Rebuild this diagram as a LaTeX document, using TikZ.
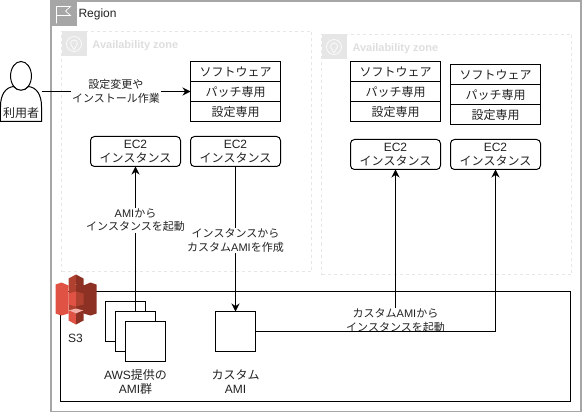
\documentclass[tikz,border=0pt]{standalone}
\usepackage{fontspec}
\setmainfont{Liberation Sans}
\newfontfamily\jp{Noto Sans CJK JP}
\usetikzlibrary{positioning, arrows.meta}
\definecolor{regiongray}{HTML}{A6A6A6}
\definecolor{zonegray}{HTML}{E6E6E6}
\definecolor{zonetext}{HTML}{DEDEDE}
\definecolor{labelgray}{HTML}{222222}
\definecolor{s3light}{HTML}{E05243}
\definecolor{s3dark}{HTML}{8C3123}
\definecolor{s3mid}{HTML}{B0402F}
\definecolor{s3pale}{HTML}{F2B0A9}
\tikzset{
    >={Stealth[length=8pt, width=8pt]}, % bold arrow heads
    every node/.style={font=\fontsize{12}{14}\selectfont, text=labelgray, align=center, inner sep=0pt, outer sep=0pt},
    zone/.style={draw=zonegray, dashed, minimum width=250pt, minimum height=240pt},
    zonename/.style={font=\fontsize{11}{13}\selectfont\bfseries, text=zonetext},
    row/.style={draw=black, fill=white, minimum width=90pt, minimum height=20pt},
    ec2/.style={draw=black, fill=white, rounded corners=4pt, minimum width=90pt, minimum height=30pt},
    ami/.style={draw=black, fill=white, minimum width=40pt, minimum height=40pt},
    lbl/.style={fill=white, inner sep=1pt, font=\fontsize{11}{13.5}\selectfont},
}
\begin{document}
\begin{tikzpicture}[x=1pt, y=-1pt, line width=1pt]
    \useasboundingbox (-0.5,-0.5) rectangle (581.5,411.5);
    % region
    \node[draw=regiongray, line width=2pt, minimum width=530pt, minimum height=410pt] (region) at (315,206) {};
    \fill[regiongray] (50,1) rectangle (76,26);
    \draw[white, line width=0.7pt] (56,23) -- (56,6) -- (70,6) -- (65,10.5) -- (70,15) -- (56,15);
    \node[anchor=west] (regionname) at (78,13.5) {Region};
    % availability zones
    \node[zone] (zoneA) at (186,151) {};
    \node[zone] (zoneB) at (446,154) {};
    \fill[zonegray] (61,31) rectangle (86,56);
    \draw[white, line width=0.6pt] (73.5,43.5) circle (7.5);
    \draw[white, line width=0.6pt] (73.5,49.5) -- (70,43) arc[start angle=180, end angle=360, x radius=3.5, y radius=3.5] -- cycle;
    \node[zonename, anchor=west] (zoneAname) at (92,45) {Availability zone};
    \fill[zonegray] (321,34) rectangle (346,59);
    \draw[white, line width=0.6pt] (333.5,46.5) circle (7.5);
    \draw[white, line width=0.6pt] (333.5,52.5) -- (330,46) arc[start angle=180, end angle=360, x radius=3.5, y radius=3.5] -- cycle;
    \node[zonename, anchor=west] (zoneBname) at (352,48) {Availability zone};
    % S3 bucket
    \node[draw=black, minimum width=510pt, minimum height=110pt] (bucket) at (315,346) {};
    \fill[s3mid] (68,284) rectangle (75.5,312);
    \fill[s3dark] (75.5,284) rectangle (83,312);
    \fill[s3mid] (75.5,274) -- (68,278) -- (68,287) -- (75.5,284) -- cycle;
    \fill[s3dark] (75.5,274) -- (83,278) -- (83,287) -- (75.5,284) -- cycle;
    \fill[s3light] (55,284) -- (61,282) -- (68,285) -- (68,313) -- (61,315) -- (55,313) -- cycle;
    \fill[s3dark] (96,284) -- (90,282) -- (83,285) -- (83,313) -- (90,315) -- (96,313) -- cycle;
    \fill[s3light] (68,293) -- (75.5,291) -- (75.5,306) -- (68,304) -- cycle;
    \fill[s3mid] (83,293) -- (75.5,291) -- (75.5,306) -- (83,304) -- cycle;
    \fill[s3pale] (68,310) -- (75.5,308) -- (83,310) -- (75.5,313) -- cycle;
    \fill[s3light] (68,310) -- (75.5,313) -- (75.5,324) -- (68,320) -- cycle;
    \fill[s3dark] (83,310) -- (75.5,313) -- (75.5,324) -- (83,320) -- cycle;
    \node (s3name) at (75,338) {S3};
    % AMIs
    \node[ami] (amiA) at (125,321) {};
    \node[ami] (amiB) at (135,331) {};
    \node[ami] (amiC) at (145,341) {};
    \node (aminame) at (135,381) {AWS{\jp 提供の}\\AMI{\jp 群}};
    \node[ami] (custom) at (235,331) {};
    \node (customname) at (235,381) {{\jp カスタム}\\AMI};
    % software stacks
    \node[row] (softA) at (235,71) {\jp ソフトウェア};
    \node[row, below=0pt of softA] (patchA) {\jp パッチ専用};
    \node[row, below=0pt of patchA] (confA) {\jp 設定専用};
    \node[row] (softB) at (395,71) {\jp ソフトウェア};
    \node[row, below=0pt of softB] (patchB) {\jp パッチ専用};
    \node[row, below=0pt of patchB] (confB) {\jp 設定専用};
    \node[row] (softC) at (495,74) {\jp ソフトウェア};
    \node[row, below=0pt of softC] (patchC) {\jp パッチ専用};
    \node[row, below=0pt of patchC] (confC) {\jp 設定専用};
    % instances
    \node[ec2] (ec2A) at (135,151) {EC2\\{\jp インスタンス}};
    \node[ec2] (ec2B) at (235,151) {EC2\\{\jp インスタンス}};
    \node[ec2] (ec2C) at (395,154) {EC2\\{\jp インスタンス}};
    \node[ec2] (ec2D) at (495,154) {EC2\\{\jp インスタンス}};
    % user
    \node[draw=black, fill=white, minimum width=29pt, shape=circle, inner sep=0pt, xscale=0.72] (head) at (20.5,75.5) {};
    \draw[black, fill=white] (0,121) -- (0,106) .. controls (0,94) and (5,87) .. (13,86) .. controls (17,91) and (24,91) .. (28,86) .. controls (36,87) and (41,94) .. (41,106) -- (41,121) -- cycle;
    \coordinate (userport) at (41,91);
    \node (username) at (20.5,112) {\jp 利用者};
    % connectors
    \draw[->] (userport) -- node[lbl] (lblA) {\jp 設定変更や\\\jp インストール作業} (patchA.west);
    \draw[->] (amiB.north) -- node[lbl, pos=0.63] (lblB) {AMI{\jp から}\\{\jp インスタンスを起動}} (ec2A.south);
    \draw[->] (ec2B.south) -- node[lbl, pos=0.51] (lblC) {{\jp インスタンスから}\\{\jp カスタム}AMI{\jp を作成}} (custom.north);
    \draw[->] (custom.east) -| (ec2C.south);
    \node[lbl] (lblD) at (395,320) {{\jp カスタム}AMI{\jp から}\\{\jp インスタンスを起動}};
    \draw[->] (custom.east) -| (ec2D.south);
\end{tikzpicture}
\end{document}
